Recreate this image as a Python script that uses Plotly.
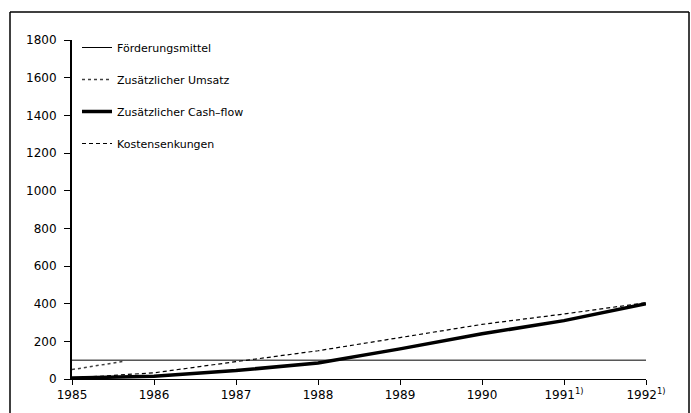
import plotly.graph_objects as go

years = [1985, 1986, 1987, 1988, 1989, 1990, 1991, 1992]
tick_labels = ["1985", "1986", "1987", "1988", "1989", "1990", "1991<sup>1)</sup>", "1992<sup>1)</sup>"]

foerdermittel = [100, 100, 100, 100, 100, 100, 100, 100]
umsatz_years = [1985, 1985.35, 1985.65]
umsatz = [50, 75, 95]
cashflow = [5, 15, 45, 85, 160, 240, 310, 400]
kosten = [5, 33, 92, 150, 220, 290, 345, 405]

y_ticks = [0, 200, 400, 600, 800, 1000, 1200, 1400, 1600, 1800]

font = dict(family="DejaVu Sans", size=12, color="black")

fig = go.Figure()
fig.add_trace(go.Scatter(x=years, y=foerdermittel, mode="lines", name="Förderungsmittel",
                         line=dict(color="black", width=1), legendgroup="a"))
fig.add_trace(go.Scatter(x=umsatz_years, y=umsatz, mode="lines", name="Zusätzlicher Umsatz",
                         line=dict(color="rgba(0,0,0,0.75)", width=1.5, dash="dot"), legendgroup="b"))
fig.add_trace(go.Scatter(x=years, y=cashflow, mode="lines", name="Zusätzlicher Cash–flow",
                         line=dict(color="black", width=3.5), legendgroup="c"))
fig.add_trace(go.Scatter(x=years, y=kosten, mode="lines", name="Kostensenkungen",
                         line=dict(color="black", width=1.2, dash="4px,3px"), legendgroup="d"))

W, H = 691, 413
L, R, T, B = 72, 45, 40, 34
pw, ph = W - L - R, H - T - B

def px_x(x):
    return (x - L) / pw

def px_y(y):
    return (H - B - y) / ph

fig.update_layout(
    width=W, height=H,
    margin=dict(l=L, r=R, t=T, b=B),
    paper_bgcolor="white", plot_bgcolor="white",
    font=font,
    showlegend=True,
    legend=dict(x=px_x(77), y=px_y(33), xanchor="left", yanchor="top",
                bgcolor="rgba(0,0,0,0)", tracegroupgap=13, itemwidth=30,
                font=dict(family="DejaVu Sans", size=11, color="black")),
    xaxis=dict(range=[1985, 1992], tickvals=years, ticktext=tick_labels,
               showgrid=False, zeroline=False, showline=True, linecolor="black", linewidth=1,
               ticks="outside", ticklen=5, tickcolor="black", tickwidth=1,
               tickfont=dict(family="DejaVu Sans", size=12, color="black")),
    yaxis=dict(range=[0, 1800], tickvals=y_ticks, showgrid=False, zeroline=False,
               showline=True, linecolor="black", linewidth=2,
               ticks="outside", ticklen=6, tickcolor="black", tickwidth=1,
               ticklabelstandoff=5,
               tickfont=dict(family="DejaVu Sans", size=12, color="black")),
    shapes=[dict(type="line", xref="paper", yref="paper",
                 x0=px_x(10), x1=px_x(689), y0=px_y(12), y1=px_y(12),
                 line=dict(color="black", width=1.5)),
            dict(type="line", xref="paper", yref="paper",
                 x0=px_x(10), x1=px_x(10), y0=px_y(12), y1=px_y(413),
                 line=dict(color="black", width=1.5)),
            dict(type="line", xref="paper", yref="paper",
                 x0=px_x(689), x1=px_x(689), y0=px_y(12), y1=px_y(413),
                 line=dict(color="black", width=1.5))],
)

fig.write_html("out.html", config={"displayModeBar": False},
               post_script="document.body.style.margin='0';")
